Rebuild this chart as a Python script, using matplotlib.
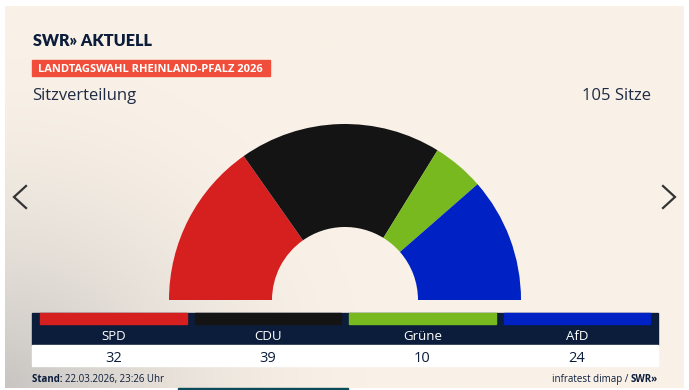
import numpy as np
import matplotlib.pyplot as plt
from matplotlib.patches import Wedge, Rectangle

# Data
parties = ['SPD', 'CDU', 'Grüne', 'AfD']
seats = [32, 39, 10, 24]
party_colors = ['#d5201f', '#141414', '#77b91e', '#0022c4']
total_seats = 105

title_brand = 'SWR» AKTUELL'
label_text = 'LANDTAGSWAHL RHEINLAND-PFALZ 2026'
subtitle = 'Sitzverteilung'
seats_text = f'{total_seats} Sitze'
stand_text = '22.03.2026, 23:26 Uhr'
source_text = 'infratest dimap / '

navy = '#0c1d3b'
cream = np.array([249, 241, 231]) / 255
gray = np.array([200, 197, 194]) / 255

plt.rcParams['font.family'] = ['Open Sans', 'DejaVu Sans']

W, H = 689, 390
fig = plt.figure(figsize=(W / 100, H / 100), dpi=100)
fig.patch.set_facecolor('white')
ax = fig.add_axes([0, 0, 1, 1])
ax.set_xlim(0, W)
ax.set_ylim(H, 0)
ax.axis('off')


def fit_width(txt, width):
    # shrink/grow the font so the text spans the given pixel width
    fig.canvas.draw()
    bb = txt.get_window_extent()
    txt.set_fontsize(txt.get_fontsize() * width / bb.width)


# card background with soft gradient from bottom-left
cx0, cx1, cy0, cy1 = 5, 684, 6, 388
xs = np.linspace(cx0, cx1, 300)
ys = np.linspace(cy0, cy1, 180)
X, Y = np.meshgrid(xs, ys)
d = np.sqrt(((X - cx0) / 360) ** 2 + ((cy1 - Y) / 330) ** 2)
t = np.clip(1 - d, 0, 1) ** 1.6
img = cream[None, None, :] + (gray - cream)[None, None, :] * t[..., None]
ax.imshow(img, extent=(cx0, cx1, cy1, cy0), aspect='auto', interpolation='bilinear', zorder=0)
ax.add_patch(Rectangle((178, 388), 170, 3, color='#0b4b59', zorder=1))

# header
brand = ax.text(33, 46, title_brand, fontsize=13, fontweight='heavy', color=navy, va='baseline',
                family=['Lato', 'DejaVu Sans'], zorder=3)
fit_width(brand, 118)
ax.add_patch(Rectangle((32, 60), 238, 16, color='#f04e3a', zorder=2))
lab = ax.text(38, 72, label_text, fontsize=8.6, fontweight='bold', color='white', va='baseline', zorder=3)
fit_width(lab, 225)
ax.text(32, 100, subtitle, fontsize=12, color='#1f2a44', va='baseline', zorder=3)
ax.text(651, 100, seats_text, fontsize=12, color='#1f2a44', va='baseline', ha='right', zorder=3)

# semicircle
cx, cy, r_out, r_in = 345, 300, 176, 73
start = 180.0
for n, c in zip(seats, party_colors):
    span = 180.0 * n / total_seats
    w = Wedge((cx, cy), r_out, -start, -(start - span), width=r_out - r_in, facecolor=c, edgecolor='none', zorder=2)
    ax.add_patch(w)
    start -= span

# navigation arrows
ax.plot([26, 14, 26], [186, 197, 208], color='#333333', lw=1.6, solid_joinstyle='miter', zorder=3)
ax.plot([663, 675, 663], [186, 197, 208], color='#333333', lw=1.6, solid_joinstyle='miter', zorder=3)

# table
ax.add_patch(Rectangle((32, 313), 626, 32, color=navy, zorder=2))
ax.add_patch(Rectangle((32, 345), 626, 21, color='white', zorder=2))
col_w, gap = 146.5, 8
for i, (p, n, c) in enumerate(zip(parties, seats, party_colors)):
    x0 = 40 + i * (col_w + gap)
    ax.add_patch(Rectangle((x0, 313), col_w, 11, color=c, zorder=3))
    xc = x0 + col_w / 2
    ax.text(xc, 340.5, p, fontsize=9.5, color='white', ha='center', va='baseline', zorder=4)
    ax.text(xc, 361.5, str(n), fontsize=10.5, color=navy, ha='center', va='baseline', zorder=4)

# footer
t1 = ax.text(32, 382, 'Stand: ', fontsize=7, fontweight='bold', color=navy, va='baseline', zorder=3)
fig.canvas.draw()
bb = t1.get_window_extent()
ax.text(bb.x1, H - 382, stand_text, fontsize=7, color=navy, va='baseline', zorder=3,
        transform=None)
t2 = ax.text(658, 382, 'SWR»', fontsize=7, fontweight='bold', color=navy, va='baseline', ha='right', zorder=3)
fig.canvas.draw()
bb2 = t2.get_window_extent()
ax.text(bb2.x0, H - 382, source_text, fontsize=7, color=navy, va='baseline', ha='right', zorder=3,
        transform=None)

fig.savefig('out.png', dpi=100, facecolor='white')
